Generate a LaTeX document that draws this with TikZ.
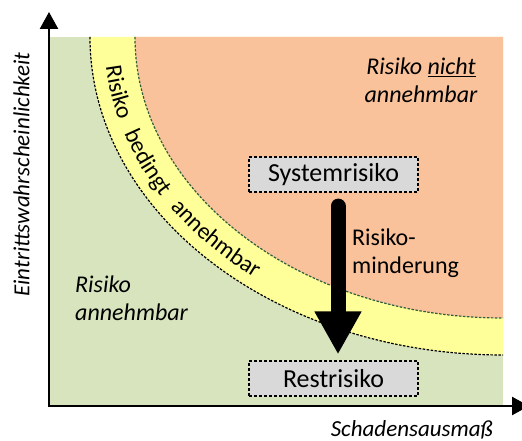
\documentclass[tikz,border=0pt]{standalone}
\usepackage{fontspec}
\setmainfont{Carlito}
\usetikzlibrary{arrows.meta,calc,decorations.text}
\definecolor{okgreen}{HTML}{D7E4BD}
\definecolor{midyellow}{HTML}{FFFF99}
\definecolor{badorange}{HTML}{F9C29A}
\definecolor{boxgray}{HTML}{D9D9D9}
\definecolor{linegreen}{HTML}{2E5E3E}
\newcommand\txtfont{\fontsize{24}{28}\selectfont}
\newcommand\boxfont{\fontsize{26}{30}\selectfont}
\newcommand\bandfont{\fontsize{23.5}{27}\selectfont}
\newcommand\axfont{\fontsize{23}{27}\selectfont\itshape}

\begin{document}
\begin{tikzpicture}[x=1pt,y=1pt,
  riskbox/.style={draw,fill=boxgray,dash pattern=on 3pt off 2pt,line width=1.2pt,
    minimum width=169pt,minimum height=35pt,inner sep=0pt,font=\boxfont},
  zone/.style={font=\txtfont\itshape,inner sep=0pt},
  border/.style={line width=1.2pt,dash pattern=on 2.5pt off 1.5pt},
  axis/.style={line width=2.5pt,line join=miter,>={Triangle[width=18pt,length=17pt]}}]
  \clip (0,0) rectangle (522,441);
  \coordinate (O) at (49,35);
  \coordinate (C) at (503,404);
  % zones
  \fill[okgreen] (50,36) rectangle (C);
  \fill[midyellow] (C) -- ++(-413,0) arc[start angle=180,end angle=270,x radius=413pt,y radius=318pt] -- cycle;
  \fill[badorange] (C) -- ++(-368,0) arc[start angle=180,end angle=270,x radius=368pt,y radius=281pt] -- cycle;
  \draw[border] (C) ++(-413,0) arc[start angle=180,end angle=270,x radius=413pt,y radius=318pt];
  \draw[border,linegreen] (C) ++(-368,0) arc[start angle=180,end angle=270,x radius=368pt,y radius=281pt];
  % band label
  \path (C) ++(185.5:399pt and 308pt) coordinate (t0);
  \path[decorate,decoration={text along path,text={|\bandfont|Risiko bedingt annehmbar},
    text align=fit to path stretching spaces}]
    (t0) arc[start angle=185.5,end angle=231.5,x radius=399pt,y radius=308pt];
  % axes
  \coordinate (ytip) at (49,429);
  \coordinate (xtip) at (529,35);
  \draw[axis,<->] (ytip) |- (xtip);
  \node[font=\axfont,rotate=90,inner sep=0pt] (ylab) at (21.5,266.5) {Eintrittswahrscheinlichkeit};
  \node[font=\axfont,anchor=base east,inner sep=0pt] (xlab) at (493,4) {Schadensausmaß};
  % risk boxes
  \node[riskbox] (sys) at (333.5,266.5) {Systemrisiko};
  \node[riskbox] (rest) at (333.5,62.5) {Restrisiko};
  \draw[line width=15pt,line cap=round,-{Triangle[width=44pt,length=43pt]}]
    ([xshift=4.5pt,yshift=-13.5pt]sys.south) -- ([xshift=4.5pt,yshift=6pt]rest.north);
  \node[font=\txtfont,inner sep=0pt,align=left,anchor=north west] (mitig) at (352,212) {Risiko-\\minderung};
  \node[zone,align=center,anchor=north] (high) at (421,383) {Risiko \underline{nicht}\\annehmbar};
  \node[zone,align=left,anchor=north west] (low) at (75,165) {Risiko\\annehmbar};
\end{tikzpicture}
\end{document}
